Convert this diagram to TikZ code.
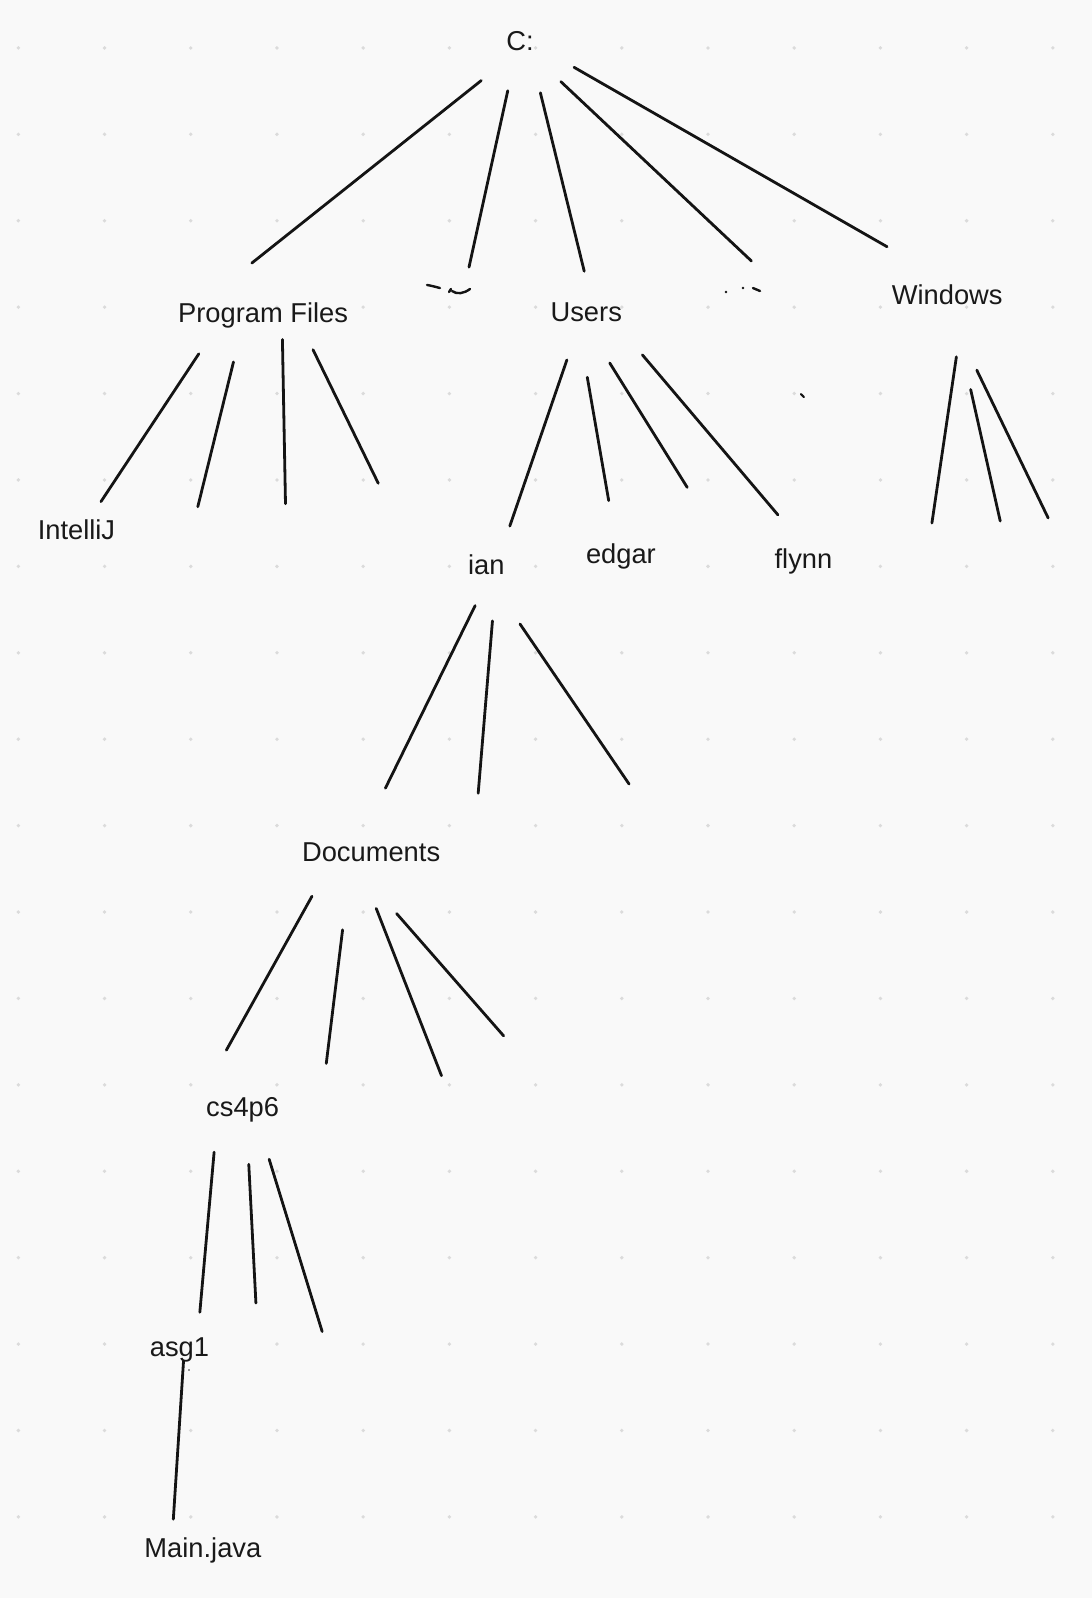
\documentclass[tikz,border=0pt]{standalone}
\usepackage{fontspec}
\setmainfont{Liberation Sans}
\begin{document}
\begin{tikzpicture}[x=1.0196pt,y=-1.0196pt,
  lbl/.style={anchor=base,inner sep=0pt,font=\fontsize{27.3pt}{30pt}\selectfont,text=black!90},
  stroke/.style={line width=2.8pt,line cap=round,black!92},
  gdot/.style={fill=black!14,draw=none}]
\fill[black!2.5] (0,0) rectangle (1071,1567.3);
\useasboundingbox (0,0) rectangle (1071,1567.3);
% grid dots
\foreach \i in {0,...,12}{
  \foreach \j in {0,...,17}{
    \fill[gdot] ({18+84.55*\i},{47+84.75*\j}) circle (1.9pt);
  }
}
% labels
\node[lbl] (c) at (510,50) {C:};
\node[lbl] (pf) at (258,316) {Program Files};
\node[lbl] (users) at (575,315) {Users};
\node[lbl] (win) at (929,299) {Windows};
\node[lbl] (intellij) at (75,529) {IntelliJ};
\node[lbl] (ian) at (477,563) {ian};
\node[lbl] (edgar) at (609,553) {edgar};
\node[lbl] (flynn) at (788,558) {flynn};
\node[lbl] (docs) at (364,845) {Documents};
\node[lbl] (cs) at (238,1095) {cs4p6};
\node[lbl] (asg) at (176,1330) {asg1};
\node[lbl] (main) at (199,1528) {Main.java};
% strokes from C:
\draw[stroke] (472,79) -- (247,258);
\draw[stroke] (498,89) -- (460,262);
\draw[stroke] (530,91) -- (573,266);
\draw[stroke] (550,80) -- (737,256);
\draw[stroke] (563,66) -- (870,242);
% Program Files
\draw[stroke] (195,347) -- (99,492);
\draw[stroke] (229,355) -- (194,497);
\draw[stroke] (277,333) -- (280,494);
\draw[stroke] (307,343) -- (371,474);
% Users
\draw[stroke] (556,353) -- (500,516);
\draw[stroke] (576,370) -- (597,491);
\draw[stroke] (598,356) -- (674,478);
\draw[stroke] (630,348) -- (763,505);
% Windows
\draw[stroke] (938,350) -- (914,513);
\draw[stroke] (952,382) -- (981,511);
\draw[stroke] (958,363) -- (1028,508);
% ian
\draw[stroke] (466,594) -- (378,773);
\draw[stroke] (483,609) -- (469,778);
\draw[stroke] (510,612) -- (617,769);
% Documents
\draw[stroke] (306,879) -- (222,1030);
\draw[stroke] (336,912) -- (320,1043);
\draw[stroke] (369,891) -- (433,1055);
\draw[stroke] (389,896) -- (494,1016);
% cs4p6
\draw[stroke] (210,1130) -- (196,1287);
\draw[stroke] (244,1142) -- (251,1278);
\draw[stroke] (264,1137) -- (316,1306);
% asg1
\draw[stroke] (180,1335) -- (170,1490);
% small marks
\draw[stroke,line width=2.4pt] (418.8,279.5) .. controls (424,280.5) .. (431.5,282.5);
\draw[stroke,line width=2.4pt] (440.4,286.4) -- (442.3,283.4);
\draw[stroke,line width=2.4pt] (443.3,285.4) .. controls (448,289) and (455,288) .. (461,283.4);
\fill[black!92] (712,286.4) circle (1.4pt);
\fill[black!92] (728.7,282.5) circle (1.4pt);
\draw[stroke,line width=2.4pt] (738.5,282.5) -- (745.4,285.4);
\draw[stroke,line width=2.2pt] (785.5,386.5) -- (788.5,389.5);
\fill[black!80] (185.4,1343.6) circle (0.9pt);
\end{tikzpicture}
\end{document}
